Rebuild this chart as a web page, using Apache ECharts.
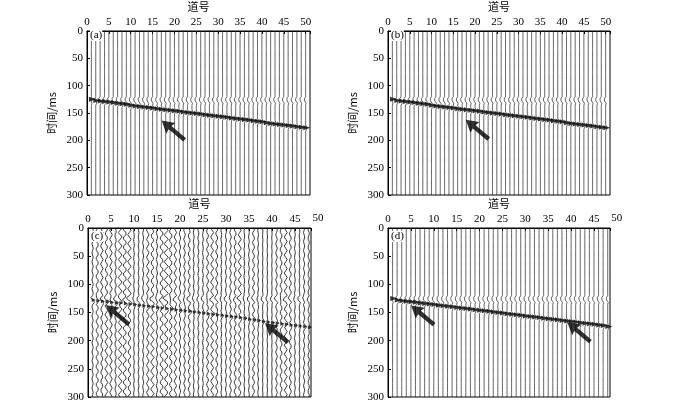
<!DOCTYPE html>
<html><head><meta charset="utf-8">
<script src="https://cdn.jsdelivr.net/npm/echarts@6/dist/echarts.min.js"></script>
<style>html,body{margin:0;padding:0;background:#fff}#c{width:700px;height:403px}</style>
</head><body><div id="c"></div>
<script>
// ---- data ----
const panelLabels = ['(a)','(b)','(c)','(d)'];
const xTicks = [0,5,10,15,20,25,30,35,40,45,50];
const yTicks = [0,50,100,150,200,250,300];
const traceCountAB = 50, traceCountCD = 48;
const firstBreakA = [125,127,128,129,130,131,132,133,134,136, 137,138,139,140,141,142,143,144,145,146, 147,148,149,150,151,152,153,154,155,156, 157,158,159,160,161,162,163,164,165,166, 168,169,170,171,172,173,174,175,176,177];
const firstBreakB = [125,127,128,129,130,131,132,133,134,136, 137,138,139,140,141,142,143,144,145,146, 147,148,149,150,151,152,153,154,155,156, 157,158,159,160,161,162,163,164,165,166, 168,169,170,171,172,173,174,175,176,177];
const firstBreakC = [128,129,130,131,132,133,133,134,135,136, 137,138,139,140,141,142,143,144,145,146, 147,148,149,150,151,152,153,154,155,156, 157,158,159,160,162,163,164,166,167,168, 169,170,171,172,173,174,175,176];
const firstBreakD = [125,128,129,130,131,132,133,134,135,136, 137,138,139,140,141,142,143,144,145,146, 147,148,149,150,151,152,153,154,155,156, 157,158,159,160,161,162,163,164,165,166, 167,168,169,170,171,172,173,175];
const noiseC = [0.15,0.35,0.3,0.35,0.3,0.2,0.45,0.5,0.4,0.1, 0.1,0.15,0.3,0.4,0.15,0.5,0.5,0.4,0.3,0.2, 0.2,0.3,0.1,0.15,0.1,0.3,0.35,0.3,0.1,0.15, 0.2,0.3,0.35,0.1,0.1,0.3,0.1,0.05,0.05,0.05, 0.2,0.3,0.35,0.3,0.1,0.1,0.15,0.2];
const directWaveTime = 120;
const directWavelet = [0,-0.12,-0.3,-0.38,-0.25,0,0.12,0.05,0];
const noiseCycle = [0,0.6,1,0.6,0,-0.6,-1,-0.6];
const arrowsTipTail = [
  [[17.4,166],[22,197]],
  [[18.3,164],[22.7,196]],
  [[4.3,139],[8.5,169],[38.5,170],[43.5,202]],
  [[5.5,140],[9.6,169],[39.7,167],[43.7,202]]
];
// ---- layout ----
const grids = [
  {left:87, top:27, width:223, height:168, xmax:51},
  {left:388,top:27, width:222, height:168, xmax:51},
  {left:88, top:228,width:223, height:169, xmax:48.5},
  {left:388,top:228,width:222, height:169, xmax:48.5}
];
const fbs=[firstBreakA,firstBreakB,firstBreakC,firstBreakD];
const counts=[traceCountAB,traceCountAB,traceCountCD,traceCountCD];
const serif='"Liberation Serif","Times New Roman",serif';
const option={animation:false,backgroundColor:'#fff',grid:[],xAxis:[],yAxis:[],series:[],graphic:[]};
grids.forEach((g,k)=>{
  option.grid.push({left:g.left,top:g.top,width:g.width,height:g.height,show:true,borderColor:'#000',borderWidth:1});
  option.xAxis.push({gridIndex:k,type:'value',position:'top',min:0,max:g.xmax,interval:5,
    name:'道号',nameLocation:'middle',nameGap:19,nameTextStyle:{fontFamily:'"Noto Sans CJK SC"',fontSize:11,color:'#000'},
    axisLine:{lineStyle:{color:'#000'}},axisTick:{inside:true,length:3,lineStyle:{color:'#000'}},
    axisLabel:{fontFamily:serif,fontSize:11,color:'#000',margin:3,
      formatter:v=>xTicks.includes(v)?String(v):''},splitLine:{show:false}});
  option.yAxis.push({gridIndex:k,type:'value',inverse:true,min:0,max:300,interval:50,
    name:'时间/ms',nameLocation:'middle',nameGap:30,nameRotate:90,nameTextStyle:{fontFamily:'"Noto Sans CJK SC"',fontSize:11,color:'#000'},
    axisLine:{lineStyle:{color:'#000'}},axisTick:{inside:true,length:3,lineStyle:{color:'#000'}},
    axisLabel:{fontFamily:serif,fontSize:11,color:'#000',margin:4,formatter:v=>yTicks.includes(v)?String(v):''},splitLine:{show:false}});
  if(g.xmax<50){
    option.graphic.push({type:'text',x:g.left+g.width*50/g.xmax,y:g.top-4,style:{text:'50',font:'11px '+serif,fill:'#000',textAlign:'center',textVerticalAlign:'bottom'}});
  }
  const fb=fbs[k], n=counts[k];
  const pts=[], tri=[];
  for(let i=0;i<n;i++){
    const x0=i+1;
    for(let t=0;t<=300;t+=2){
      let a=0;
      const dj=(t-directWaveTime)/2;
      if(dj>=0&&dj<directWavelet.length) a+=directWavelet[dj];
      if(k===2){const c=noiseCycle[((t/2)+i*3)%noiseCycle.length]; a+=noiseC[i]*c*0.9;}
      const dt=t-fb[i];
      if(dt>=-4&&dt<=6) a+= (dt<=0? (dt+4)/4 : (6-dt)/6)*0.45;
      pts.push([x0+a,t]);
    }
    pts.push('-');
    tri.push([x0+0.25,fb[i]]);
  }
  option.series.push({type:'line',xAxisIndex:k,yAxisIndex:k,data:pts,showSymbol:false,connectNulls:false,
    lineStyle:{color:'#222',width:k===2?0.9:0.7},silent:true});
  option.series.push({type:'scatter',xAxisIndex:k,yAxisIndex:k,data:tri,symbol:'triangle',symbolRotate:-90,
    symbolSize:k===2?[4,4]:[5,7],itemStyle:{color:'#000'},silent:true});
  const ar=arrowsTipTail[k];
  for(let j=0;j<ar.length;j+=2){
    const tip=ar[j], tail=ar[j+1];
    option.series.push({type:'scatter',xAxisIndex:k,yAxisIndex:k,data:[[(tip[0]+tail[0])/2,(tip[1]+tail[1])/2]],
      symbol:'path://M7,0 L15,12 L9.5,11 L9.5,30 L4.5,30 L4.5,11 L-1,12 Z',symbolSize:[14,30],symbolRotate:50,
      itemStyle:{color:'#000'},silent:true,z:5});
  }
  option.graphic.push({type:'text',left:g.left+3,top:g.top+3,style:{text:panelLabels[k],font:'11px '+serif,fill:'#000',backgroundColor:'#fff'},z:10});
});
const chart=echarts.init(document.getElementById('c'));
chart.setOption(option);
</script></body></html>
